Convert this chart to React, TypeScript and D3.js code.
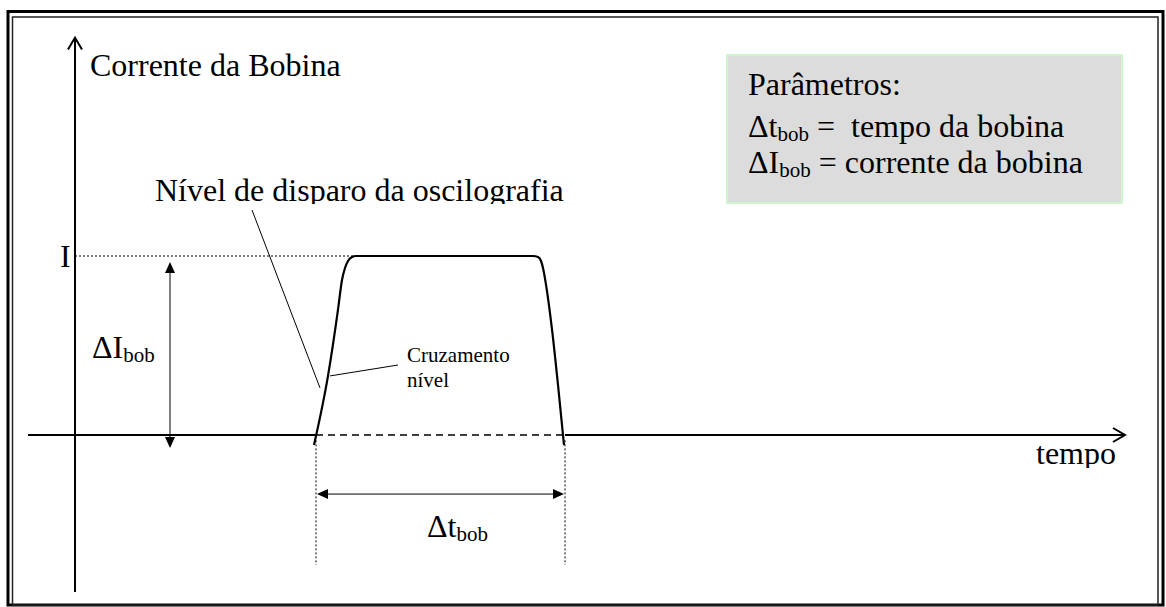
import React, {useEffect, useRef} from 'react';
import * as d3 from 'd3';

const width = 1166;
const height = 607;
const font = '"Liberation Serif", "Times New Roman", serif';

// pulse: time in arbitrary units, current relative to I
const pulseTime = [23.9, 25.3, 26.3, 26.7, 27.0, 27.3, 27.7, 28.1, 45.8, 46.3, 46.6, 46.8, 47.1, 47.7, 48.3, 48.9];
const pulseCurrent = [-0.056, 0.33, 0.70, 0.866, 0.933, 0.972, 0.994, 1, 1, 0.994, 0.972, 0.933, 0.84, 0.59, 0.28, -0.056];

// axis extents
const timeExtent = [-4.7, 105];
const currentExtent = [-0.877, 2.22];

// annotation values
const pulseStart = 24.1;
const pulseEnd = 49.0;
const levelI = 1;
const deltaIAt = 9.5;          // time where the ΔI arrow stands
const deltaTAt = -0.33;        // current where the Δt arrow stands
const markerBottom = -0.726;   // end of the dotted verticals
const triggerPoint = [24.5, 0.263];
const crossPoint = [25.3, 0.33];

const legendTitle = 'Parâmetros:';
const legendSymbols = ['Δt', 'ΔI'];
const legendText = [' =  tempo da bobina', ' = corrente da bobina'];

function App() {
    const ref = useRef<SVGSVGElement>(null);

    useEffect(() => {
        const svg = d3.select(ref.current);
        svg.selectAll('*').remove();

        const x = d3.scaleLinear().domain([0, 105]).range([75, 1125]);
        const y = d3.scaleLinear().domain([0, 1]).range([435, 256]);

        const defs = svg.append('defs');
        defs.append('clipPath').attr('id', 'clipNivel')
            .append('rect').attr('x', 0).attr('y', 0).attr('width', width).attr('height', 204);
        defs.append('clipPath').attr('id', 'clipTempo')
            .append('rect').attr('x', 0).attr('y', 0).attr('width', width).attr('height', 468);

        // double frame
        svg.append('rect')
            .attr('x', 8).attr('y', 11.5).attr('width', 1155).attr('height', 593.5)
            .attr('fill', 'none').attr('stroke', '#000').attr('stroke-width', 3);
        svg.append('rect')
            .attr('x', 12.5).attr('y', 17).attr('width', 1145.5).attr('height', 588)
            .attr('fill', 'none').attr('stroke', '#222').attr('stroke-width', 1.5);

        // legend box
        svg.append('rect')
            .attr('x', 727).attr('y', 55).attr('width', 395).attr('height', 148)
            .attr('fill', '#dcdcdc').attr('stroke', '#ccf7cc').attr('stroke-width', 2);

        // y axis with open arrow
        const yTop = y(currentExtent[1]);
        svg.append('line')
            .attr('x1', x(0)).attr('x2', x(0))
            .attr('y1', y(currentExtent[0])).attr('y2', yTop)
            .attr('stroke', '#000').attr('stroke-width', 2);
        svg.append('path')
            .attr('d', `M${x(0) - 7},${yTop + 12}L${x(0)},${yTop}L${x(0) + 7},${yTop + 12}`)
            .attr('fill', 'none').attr('stroke', '#000').attr('stroke-width', 2);

        // x axis: solid, dashed under the pulse, solid, open arrow
        const xEnd = x(timeExtent[1]);
        svg.append('line')
            .attr('x1', x(timeExtent[0])).attr('x2', x(pulseStart))
            .attr('y1', y(0)).attr('y2', y(0))
            .attr('stroke', '#000').attr('stroke-width', 2);
        svg.append('line')
            .attr('x1', x(pulseStart)).attr('x2', x(pulseEnd))
            .attr('y1', y(0)).attr('y2', y(0))
            .attr('stroke', '#000').attr('stroke-width', 1.5)
            .attr('stroke-dasharray', '7,5');
        svg.append('line')
            .attr('x1', x(pulseEnd)).attr('x2', xEnd)
            .attr('y1', y(0)).attr('y2', y(0))
            .attr('stroke', '#000').attr('stroke-width', 2);
        svg.append('path')
            .attr('d', `M${xEnd - 12},${y(0) - 7}L${xEnd},${y(0)}L${xEnd - 12},${y(0) + 7}`)
            .attr('fill', 'none').attr('stroke', '#000').attr('stroke-width', 2);

        // dotted I level
        svg.append('line')
            .attr('x1', x(0)).attr('x2', x(pulseTime[7]))
            .attr('y1', y(levelI)).attr('y2', y(levelI))
            .attr('stroke', '#000').attr('stroke-width', 1)
            .attr('stroke-dasharray', '2,2');

        // dotted verticals at pulse start/end
        [pulseStart, pulseEnd].forEach(t => {
            svg.append('line')
                .attr('x1', x(t)).attr('x2', x(t))
                .attr('y1', y(-0.03)).attr('y2', y(markerBottom))
                .attr('stroke', '#000').attr('stroke-width', 1)
                .attr('stroke-dasharray', '2,2');
        });

        // pulse
        const pulse = pulseTime.map((t, i) => [t, pulseCurrent[i]] as [number, number]);
        const line = d3.line<[number, number]>()
            .x(d => x(d[0]))
            .y(d => y(d[1]))
            .curve(d3.curveMonotoneX);
        svg.append('path')
            .attr('d', line(pulse))
            .attr('fill', 'none').attr('stroke', '#000').attr('stroke-width', 2.2)
            .attr('stroke-linejoin', 'round');

        // ΔI double arrow
        const ax = x(deltaIAt);
        const aTop = y(levelI) + 6;
        const aBot = y(0) + 13;
        svg.append('line')
            .attr('x1', ax).attr('x2', ax).attr('y1', aTop + 8).attr('y2', aBot - 8)
            .attr('stroke', '#000').attr('stroke-width', 1);
        svg.append('path')
            .attr('d', `M${ax},${aTop}L${ax - 5},${aTop + 11}L${ax + 5},${aTop + 11}Z`)
            .attr('fill', '#000');
        svg.append('path')
            .attr('d', `M${ax},${aBot}L${ax - 5},${aBot - 11}L${ax + 5},${aBot - 11}Z`)
            .attr('fill', '#000');

        // Δt double arrow
        const ay = y(deltaTAt);
        const tL = x(pulseStart) + 1;
        const tR = x(pulseEnd) - 1;
        svg.append('line')
            .attr('x1', tL + 8).attr('x2', tR - 8).attr('y1', ay).attr('y2', ay)
            .attr('stroke', '#000').attr('stroke-width', 1);
        svg.append('path')
            .attr('d', `M${tL},${ay}L${tL + 11},${ay - 5}L${tL + 11},${ay + 5}Z`)
            .attr('fill', '#000');
        svg.append('path')
            .attr('d', `M${tR},${ay}L${tR - 11},${ay - 5}L${tR - 11},${ay + 5}Z`)
            .attr('fill', '#000');

        // leader lines
        svg.append('line')
            .attr('x1', 252).attr('y1', 210)
            .attr('x2', x(triggerPoint[0])).attr('y2', y(triggerPoint[1]))
            .attr('stroke', '#000').attr('stroke-width', 1);
        svg.append('line')
            .attr('x1', 398).attr('y1', 365)
            .attr('x2', x(crossPoint[0]) + 2).attr('y2', y(crossPoint[1]))
            .attr('stroke', '#000').attr('stroke-width', 1);

        // texts
        const text = (tx: number, ty: number, s: string, size = 32) =>
            svg.append('text')
                .attr('x', tx).attr('y', ty)
                .attr('font-family', font).attr('font-size', size)
                .attr('fill', '#000')
                .style('white-space', 'pre')
                .text(s);

        const withSub = (tx: number, ty: number, sym: string, sub: string, rest = '') => {
            const t = svg.append('text')
                .attr('x', tx).attr('y', ty)
                .attr('font-family', font).attr('font-size', 32)
                .attr('fill', '#000')
                .style('white-space', 'pre');
            t.append('tspan').text(sym);
            t.append('tspan').attr('font-size', 21).attr('dy', 4).text(sub);
            if (rest) t.append('tspan').attr('dy', -4).text(rest);
            return t;
        };

        text(90, 76, 'Corrente da Bobina');
        text(155, 201, 'Nível de disparo da oscilografia').attr('clip-path', 'url(#clipNivel)');
        text(1036, 464, 'tempo').attr('clip-path', 'url(#clipTempo)');
        text(60, 267, 'I');
        withSub(92, 358, 'ΔI', 'bob');
        withSub(427, 537, 'Δt', 'bob');
        text(407, 362, 'Cruzamento', 21);
        text(407, 387, 'nível', 21);

        text(748, 95, legendTitle);
        legendSymbols.forEach((s, i) => {
            withSub(748, 137 + i * 36, s, 'bob', legendText[i]);
        });
    }, []);

    return (
        <svg ref={ref} width={width} height={height}
             style={{position: 'absolute', left: 0, top: 0, background: '#fff'}}/>
    );
}

export default App;
